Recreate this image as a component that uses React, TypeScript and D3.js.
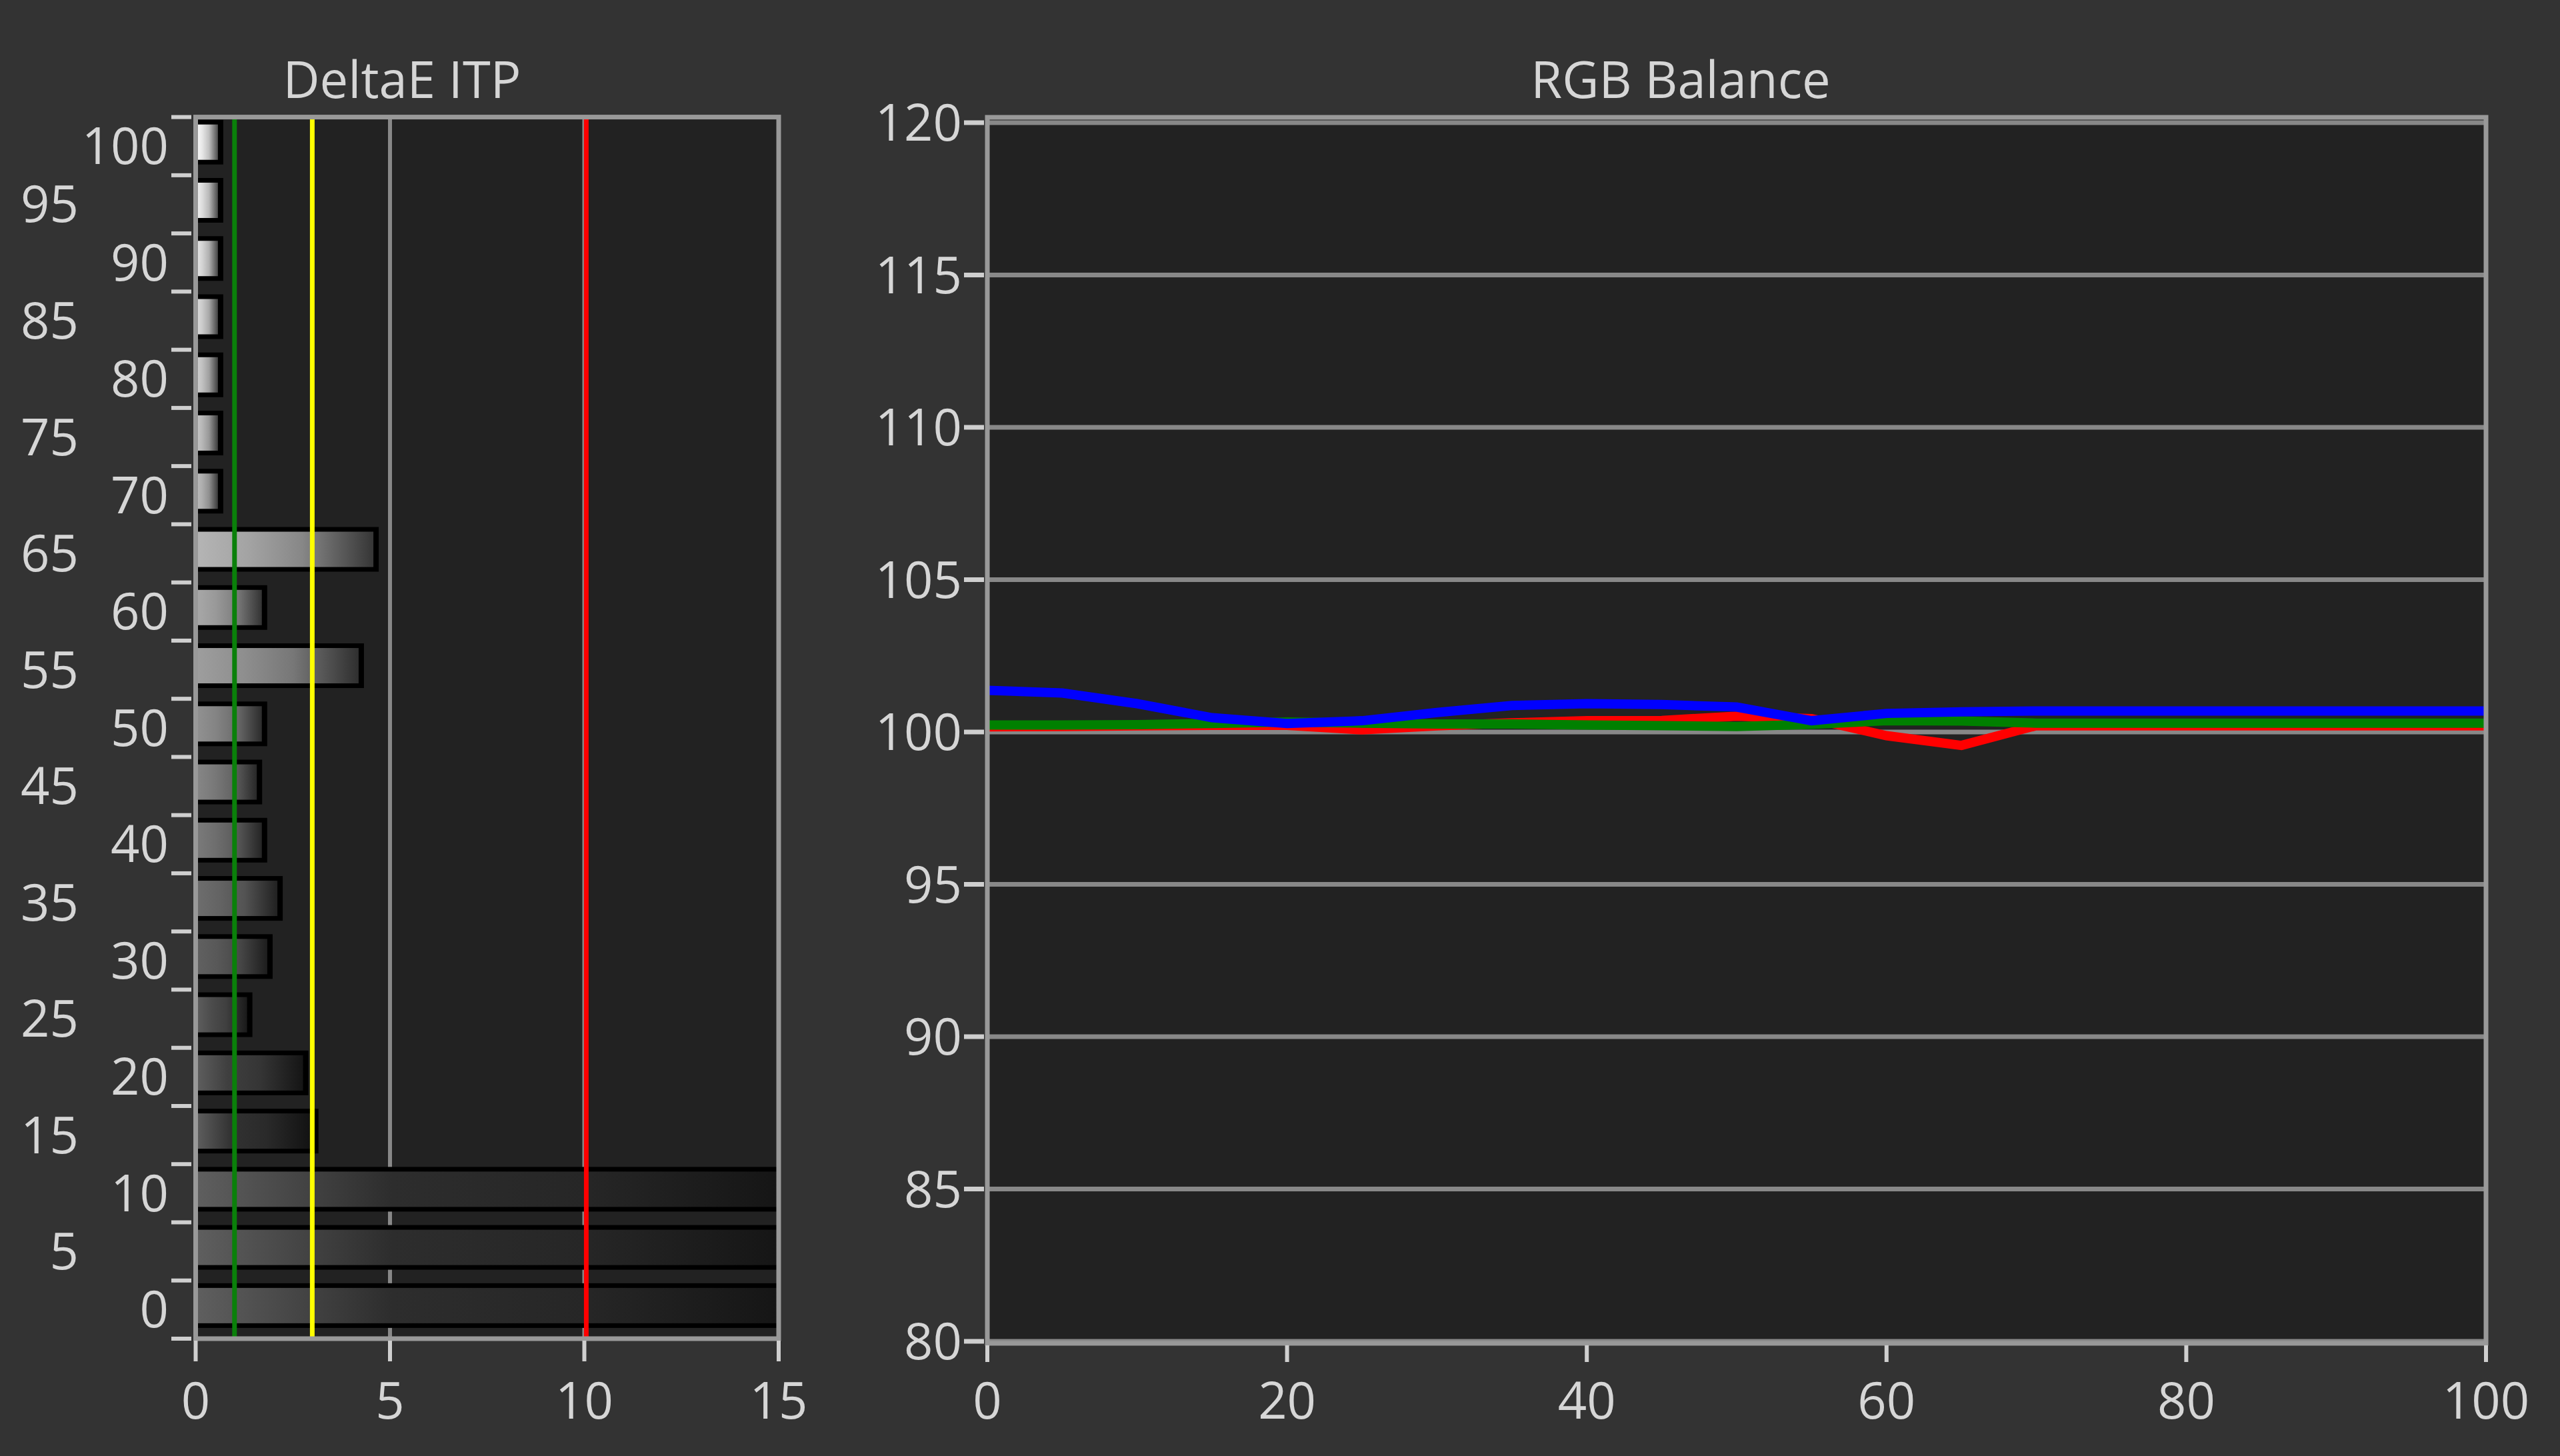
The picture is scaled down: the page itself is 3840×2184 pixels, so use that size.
import React from 'react';
import * as d3 from 'd3';

// ---------- data ----------
const levels = [0, 5, 10, 15, 20, 25, 30, 35, 40, 45, 50, 55, 60, 65, 70, 75, 80, 85, 90, 95, 100];
const deltaE = [17, 17, 17, 3.16, 2.9, 1.46, 1.98, 2.24, 1.84, 1.71, 1.84, 4.33, 1.84, 4.71, 0.71, 0.71, 0.71, 0.71, 0.71, 0.71, 0.71];
const thresholdValues = [1, 3, 10.05];
const thresholdColors = ['#0a800a', '#ffff00', '#ff0000'];
const deltaTicks = [0, 5, 10, 15];
const deltaGrid = [5, 10];

const redBalance = [100.17, 100.18, 100.2, 100.22, 100.22, 100.07, 100.2, 100.3, 100.37, 100.38, 100.52, 100.44, 99.88, 99.56, 100.21, 100.2, 100.2, 100.2, 100.2, 100.2, 100.2];
const greenBalance = [100.23, 100.23, 100.24, 100.28, 100.33, 100.29, 100.26, 100.26, 100.23, 100.21, 100.18, 100.25, 100.37, 100.36, 100.29, 100.29, 100.29, 100.29, 100.29, 100.29, 100.29];
const blueBalance = [101.37, 101.28, 100.93, 100.47, 100.28, 100.37, 100.64, 100.87, 100.93, 100.9, 100.82, 100.37, 100.61, 100.66, 100.69, 100.69, 100.69, 100.69, 100.69, 100.69, 100.69];
const balanceYTicks = [80, 85, 90, 95, 100, 105, 110, 115, 120];
const balanceXTicks = [0, 20, 40, 60, 80, 100];

const W = 3840;
const H = 2184;
const FONT = "'Open Sans', 'Noto Sans', sans-serif";
const TXT = '#d6d6d6';
const TICK = '#cfcfcf';
const FS = 76;
const CAP = 27;

export default function App() {
  // left chart
  const xL = d3.scaleLinear().domain([0, 15]).range([293.5, 1168]);
  const yL = d3.scaleBand<number>().domain([...levels].reverse()).range([175.6, 2008]).padding(0);
  const bw = yL.bandwidth();
  const lTop = 175.6, lBot = 2008;

  // right chart
  const xR = d3.scaleLinear().domain([0, 100]).range([1481, 3729]);
  const yR = d3.scaleLinear().domain([80, 120]).range([2012, 184]);

  const line = d3.line<number>().x((_, i) => xR(levels[i])).y((d) => yR(d));

  const g = (v: number) => {
    const c = Math.max(0, Math.min(255, Math.round(v)));
    return `rgb(${c},${c},${c})`;
  };
  const base = (lvl: number) => Math.max(50, 255 * Math.pow(lvl / 100, 0.8));

  return (
    <svg width={W} height={H} style={{ position: 'absolute', left: 0, top: 0, background: '#333333' }} fontFamily={FONT}>
      <defs>
        <clipPath id="clipL">
          <rect x={xL(0)} y={lTop} width={xL(15) - xL(0)} height={lBot - lTop} />
        </clipPath>
        {levels.map((lvl) => {
          const b = base(lvl);
          const start = Math.max(b, 95);
          return (
            <linearGradient key={lvl} id={`bar${lvl}`} x1="0" x2="1" y1="0" y2="0">
              <stop offset="0" stopColor={g(start)} />
              <stop offset="0.3" stopColor={g(b * 0.9)} />
              <stop offset="0.6" stopColor={g(b * 0.75)} />
              <stop offset="1" stopColor={g(b * 0.3)} />
            </linearGradient>
          );
        })}
      </defs>
      <rect x={0} y={0} width={W} height={H} fill="#333333" />

      {/* ---------- Left: DeltaE ITP ---------- */}
      <text x={603} y={147} textAnchor="middle" fontSize={FS} fill={TXT}>DeltaE ITP</text>
      <rect x={xL(0)} y={lTop} width={xL(15) - xL(0)} height={lBot - lTop} fill="#222222" />
      {deltaGrid.map((v) => (
        <line key={v} x1={xL(v)} x2={xL(v)} y1={lTop} y2={lBot} stroke="#888888" strokeWidth={6} />
      ))}
      <g clipPath="url(#clipL)">
        {levels.map((lvl, i) => {
          const cy = (yL(lvl) as number) + bw / 2 - 6;
          const x0 = xL(0);
          const x1 = xL(deltaE[i]);
          return (
            <g key={lvl}>
              <rect x={x0} y={cy - 33.5} width={x1 - x0} height={67} fill="#000000" />
              <rect x={x0} y={cy - 26.5} width={Math.max(0, x1 - x0 - 8)} height={53} fill={`url(#bar${lvl})`} />
            </g>
          );
        })}
      </g>
      {thresholdValues.map((v, i) => (
        <line key={v} x1={xL(v)} x2={xL(v)} y1={lTop} y2={lBot} stroke={thresholdColors[i]} strokeWidth={7} />
      ))}
      <rect x={xL(0)} y={lTop} width={xL(15) - xL(0)} height={lBot - lTop} fill="none" stroke="#999999" strokeWidth={7} />
      {d3.range(levels.length + 1).map((k) => {
        const y = lTop + k * bw;
        return <line key={k} x1={257} x2={287} y1={y} y2={y} stroke={TICK} strokeWidth={6} />;
      })}
      {levels.map((lvl) => {
        const cy = (yL(lvl) as number) + bw / 2;
        const even = lvl % 10 === 0;
        return (
          <text key={lvl} x={even ? 253 : 118} y={cy + CAP} textAnchor="end" fontSize={FS} fill={TXT}>
            {lvl}
          </text>
        );
      })}
      {deltaTicks.map((v) => (
        <g key={v}>
          <line x1={xL(v)} x2={xL(v)} y1={lBot + 3} y2={2042} stroke={TICK} strokeWidth={6} />
          <text x={xL(v)} y={2128} textAnchor="middle" fontSize={FS} fill={TXT}>{v}</text>
        </g>
      ))}

      {/* ---------- Right: RGB Balance ---------- */}
      <text x={2521} y={147} textAnchor="middle" fontSize={FS} fill={TXT}>RGB Balance</text>
      <rect x={xR(0)} y={176} width={xR(100) - xR(0)} height={2015 - 176} fill="#222222" />
      {balanceYTicks.map((v) => (
        <line key={v} x1={xR(0)} x2={xR(100)} y1={yR(v)} y2={yR(v)} stroke="#888888" strokeWidth={7} />
      ))}
      <path d={line(redBalance) || ''} fill="none" stroke="#ff0000" strokeWidth={14} strokeLinejoin="miter" strokeMiterlimit={4} />
      <path d={line(greenBalance) || ''} fill="none" stroke="#008000" strokeWidth={14} strokeLinejoin="miter" strokeMiterlimit={4} />
      <path d={line(blueBalance) || ''} fill="none" stroke="#0000ff" strokeWidth={14} strokeLinejoin="miter" strokeMiterlimit={4} />
      <rect x={xR(0)} y={176} width={xR(100) - xR(0)} height={2015 - 176} fill="none" stroke="#999999" strokeWidth={7} />
      {balanceYTicks.map((v) => (
        <g key={v}>
          <line x1={1446} x2={1476} y1={yR(v)} y2={yR(v)} stroke={TICK} strokeWidth={7} />
          <text x={1443} y={yR(v) + CAP} textAnchor="end" fontSize={FS} fill={TXT}>{v}</text>
        </g>
      ))}
      {balanceXTicks.map((v) => (
        <g key={v}>
          <line x1={xR(v)} x2={xR(v)} y1={2018} y2={2043} stroke={TICK} strokeWidth={6} />
          <text x={xR(v)} y={2128} textAnchor="middle" fontSize={FS} fill={TXT}>{v}</text>
        </g>
      ))}
    </svg>
  );
}
